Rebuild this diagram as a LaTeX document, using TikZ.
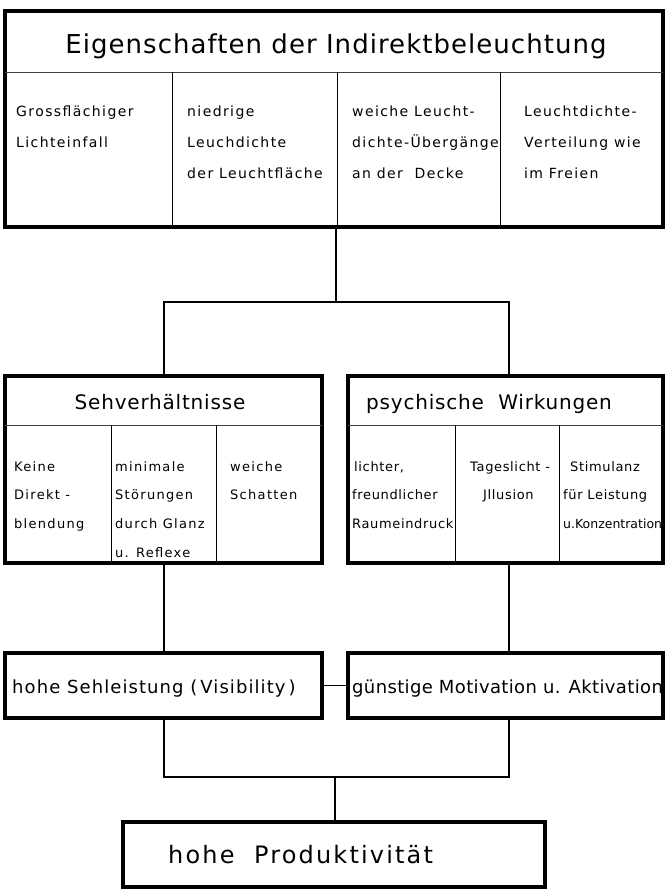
\documentclass[tikz,border=0pt]{standalone}
\usepackage{fontspec}
\setmainfont{DejaVu Sans}
\newfontfamily\smallf[LetterSpace=10]{DejaVu Sans}
\newfontfamily\tightf[LetterSpace=5]{DejaVu Sans}
\newfontfamily\narrowf[LetterSpace=0]{DejaVu Sans}
\newfontfamily\titlef[LetterSpace=4]{DejaVu Sans}
\newfontfamily\midf[LetterSpace=2]{DejaVu Sans}
\newfontfamily\midwf[LetterSpace=6]{DejaVu Sans}
\newfontfamily\botf[LetterSpace=9]{DejaVu Sans}
\begin{document}
\begin{tikzpicture}[x=1pt,y=-1pt,
  box/.style={draw, line width=4pt, inner sep=0pt},
  conn/.style={line width=1.3pt},
  coldiv/.style={line width=0.9pt},
  titlediv/.style={line width=0.8pt, black!75},
  toptxt/.style={font=\smallf\fontsize{14}{16}\selectfont, anchor=base west, inner sep=0pt},
  lefttxt/.style={font=\smallf\fontsize{13}{15}\selectfont, anchor=base west, inner sep=0pt},
  righttxt/.style={font=\tightf\fontsize{13}{15}\selectfont, anchor=base west, inner sep=0pt},
  narrowtxt/.style={font=\narrowf\fontsize{12.5}{15}\selectfont, anchor=base west, inner sep=0pt},
  bigtitle/.style={font=\titlef\fontsize{26}{30}\selectfont, anchor=base, inner sep=0pt},
  boxtitle/.style={font=\titlef\fontsize{20}{24}\selectfont, anchor=base, inner sep=0pt},
  midtxt/.style={font=\midf\fontsize{18}{22}\selectfont, anchor=base west, inner sep=0pt},
  midwtxt/.style={font=\midwf\fontsize{18}{22}\selectfont, anchor=base west, inner sep=0pt},
  bottxt/.style={font=\botf\fontsize{24}{28}\selectfont, anchor=base west, inner sep=0pt}
]
\useasboundingbox (0,0) rectangle (665,890);

% boxes
\node[box, minimum width=658, minimum height=216] (top) at (334,119) {};
\node[box, minimum width=317, minimum height=187] (seh) at (163.5,469.5) {};
\node[box, minimum width=315, minimum height=187] (psy) at (505.5,469.5) {};
\node[box, minimum width=317, minimum height=65] (midL) at (163.5,685.5) {};
\node[box, minimum width=315, minimum height=65] (midR) at (505.5,685.5) {};
\node[box, minimum width=422, minimum height=65] (bot) at (334,854.5) {};

% top box internals
\draw[titlediv] (5,72) -- (663,72);
\foreach \x in {172,337,500} \draw[coldiv] (\x,72) -- (\x,227);
\node[bigtitle] (t0) at (336,54) {Eigenschaften der Indirektbeleuchtung};
\node[toptxt] (t11) at (16,117) {Grossflächiger};
\node[toptxt] (t12) at (16,148) {Lichteinfall};
\node[toptxt] (t21) at (187,117) {niedrige};
\node[toptxt] (t22) at (187,148) {Leuchdichte};
\node[toptxt] (t23) at (187,179) {der Leuchtfläche};
\node[toptxt] (t31) at (352,117) {weiche Leucht-};
\node[toptxt] (t32) at (352,148) {dichte-Übergänge};
\node[toptxt] (t33) at (352,179) {an der\ \ Decke};
\node[toptxt] (t41) at (524,117) {Leuchtdichte-};
\node[toptxt] (t42) at (524,148) {Verteilung wie};
\node[toptxt] (t43) at (524,179) {im Freien};

% Sehverhaeltnisse internals
\draw[titlediv] (5,425) -- (322,425);
\foreach \x in {111,216} \draw[coldiv] (\x,425) -- (\x,563);
\node[boxtitle] (s0) at (160,409) {Sehverhältnisse};
\node[lefttxt] (s11) at (14,471) {Keine};
\node[lefttxt] (s12) at (14,499) {Direkt -};
\node[lefttxt] (s13) at (14,528) {blendung};
\node[lefttxt] (s21) at (115,471) {minimale};
\node[lefttxt] (s22) at (115,499) {Störungen};
\node[lefttxt] (s23) at (115,528) {durch Glanz};
\node[lefttxt] (s24) at (115,557) {u. Reflexe};
\node[lefttxt] (s31) at (230,471) {weiche};
\node[lefttxt] (s32) at (230,499) {Schatten};

% psychische Wirkungen internals
\draw[titlediv] (348,425) -- (663,425);
\foreach \x in {455,559} \draw[coldiv] (\x,425) -- (\x,563);
\node[boxtitle] (p0) at (489,409) {psychische\ \ Wirkungen};
\node[righttxt] (p11) at (354,471) {lichter,};
\node[righttxt] (p12) at (352,499) {freundlicher};
\node[righttxt] (p13) at (352,528) {Raumeindruck};
\node[righttxt] (p21) at (470,471) {Tageslicht -};
\node[righttxt] (p22) at (483,499) {Jllusion};
\node[righttxt] (p31) at (570,471) {Stimulanz};
\node[righttxt] (p32) at (563,499) {für Leistung};
\node[narrowtxt] (p33) at (563,528) {u.Konzentration};

% middle and bottom texts
\node[midwtxt] (m1) at (12,693) {hohe Sehleistung (\,Visibility\,)};
\node[midtxt] (m2) at (352,693) {günstige Motivation u. Aktivation};
\node[bottxt] (b1) at (168,863) {hohe\ \ Produktivität};

% connectors
\coordinate (jTop) at (336,302);
\coordinate (xL) at (164,0);
\coordinate (xR) at (509,0);
\coordinate (jBot) at (335,777);
\draw[conn] (top.south -| jTop) -- (jTop);
\draw[conn] (seh.north -| xL) -- (jTop -| xL) -- (jTop -| xR) -- (psy.north -| xR);
\draw[conn] (seh.south -| xL) -- (midL.north -| xL);
\draw[conn] (psy.south -| xR) -- (midR.north -| xR);
\draw[conn] (midL.east) -- (midR.west);
\draw[conn] (midL.south -| xL) -- (jBot -| xL) -- (jBot -| xR) -- (midR.south -| xR);
\draw[conn] (jBot) -- (bot.north -| jBot);
\end{tikzpicture}
\end{document}
